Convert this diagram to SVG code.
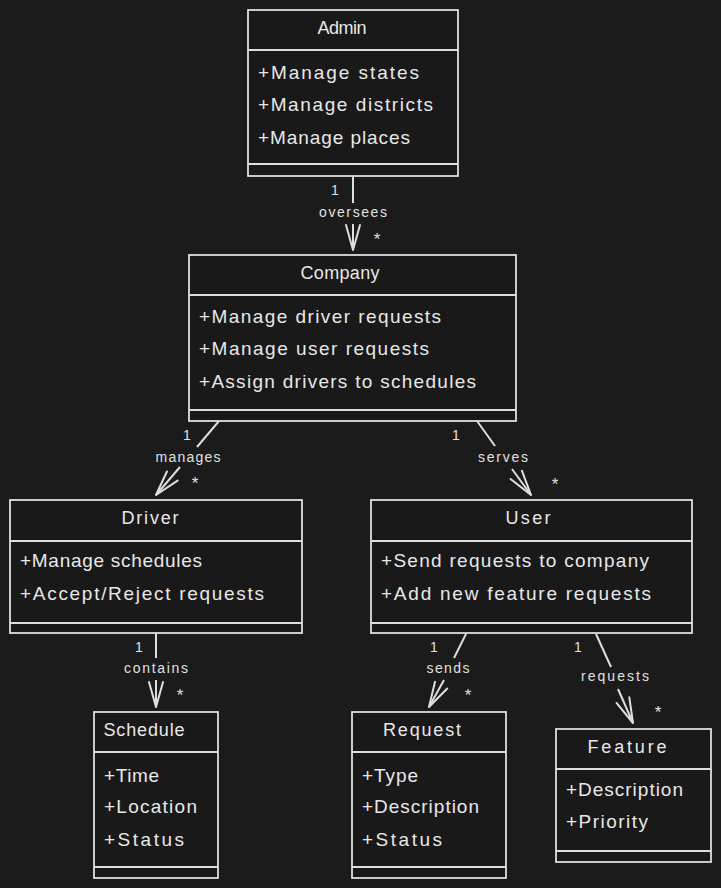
<svg xmlns="http://www.w3.org/2000/svg" width="721" height="888" viewBox="0 0 721 888">
<defs>
<style>
.bg{fill:#1b1b1b}
.box{fill:#191919;stroke:#dedede;stroke-width:1.8}
.div{stroke:#dedede;stroke-width:1.8}
.t{font-family:"Liberation Sans",Arial,sans-serif;fill:#e8e8e8}
.title{font-size:18px;text-anchor:middle}
.mem{font-size:19px}
.lbl{font-family:"Liberation Sans",Arial,sans-serif;fill:#e0e0e0;font-size:14px;text-anchor:middle}
.card{font-family:"Liberation Sans",Arial,sans-serif;fill:#e0e0e0;font-size:14px;text-anchor:middle}
.star{font-family:"Liberation Sans",Arial,sans-serif;fill:#e0e0e0;font-size:17px;text-anchor:middle}
.edge{stroke:#dedede;stroke-width:2;fill:none}
</style>
<marker id="arr" markerUnits="userSpaceOnUse" markerWidth="30" markerHeight="20" viewBox="-27 -10 30 20" refX="0" refY="0" orient="auto">
<path d="M -25 -7 L 0 0 L -25 7" fill="none" stroke="#dedede" stroke-width="2" stroke-linecap="round" stroke-linejoin="round"/>
</marker>
</defs>
<rect class="bg" x="0" y="0" width="721" height="888"/>

<g id="connectors">
<g id="e-admin-company">
<line class="edge" x1="353" y1="176" x2="353" y2="203"/>
<line class="edge" x1="353" y1="224" x2="353" y2="250" marker-end="url(#arr)"/>
<text class="card" x="335" y="195">1</text>
<text class="lbl" x="353" y="217" textLength="68">oversees</text>
<text class="star" x="377" y="245">*</text>
</g>
<g id="e-company-driver">
<line class="edge" x1="219" y1="421" x2="197" y2="447"/>
<line class="edge" x1="180" y1="467" x2="156" y2="495" marker-end="url(#arr)"/>
<text class="card" x="187" y="440">1</text>
<text class="lbl" x="188" y="462" textLength="65">manages</text>
<text class="star" x="195" y="489">*</text>
</g>
<g id="e-company-user">
<line class="edge" x1="477" y1="421" x2="495" y2="446"/>
<line class="edge" x1="512" y1="469" x2="531" y2="495" marker-end="url(#arr)"/>
<text class="card" x="456" y="440">1</text>
<text class="lbl" x="503" y="462" textLength="50">serves</text>
<text class="star" x="555" y="490">*</text>
</g>
<g id="e-driver-schedule">
<line class="edge" x1="156" y1="633" x2="156" y2="658"/>
<line class="edge" x1="156" y1="680" x2="156" y2="707" marker-end="url(#arr)"/>
<text class="card" x="139" y="652">1</text>
<text class="lbl" x="156" y="673" textLength="64">contains</text>
<text class="star" x="180" y="701">*</text>
</g>
<g id="e-user-request">
<line class="edge" x1="466" y1="634" x2="454" y2="658"/>
<line class="edge" x1="444" y1="680" x2="429" y2="707" marker-end="url(#arr)"/>
<text class="card" x="434" y="652">1</text>
<text class="lbl" x="448" y="673" textLength="43">sends</text>
<text class="star" x="468" y="701">*</text>
</g>
<g id="e-user-feature">
<line class="edge" x1="596" y1="634" x2="611" y2="667"/>
<line class="edge" x1="618" y1="689" x2="633" y2="723" marker-end="url(#arr)"/>
<text class="card" x="578" y="652">1</text>
<text class="lbl" x="615" y="681" textLength="68">requests</text>
<text class="star" x="658" y="718">*</text>
</g>
</g>

<g id="Admin">
<rect class="box" x="248" y="10" width="210" height="166"/>
<line class="div" x1="248" y1="50" x2="458" y2="50"/>
<line class="div" x1="248" y1="164" x2="458" y2="164"/>
<text class="t title" x="342" y="34" textLength="49">Admin</text>
<text class="t mem" x="258" y="79" textLength="161">+Manage states</text>
<text class="t mem" x="258" y="111" textLength="175">+Manage districts</text>
<text class="t mem" x="258" y="144" textLength="152">+Manage places</text>
</g>

<g id="Company">
<rect class="box" x="189" y="255" width="327" height="166"/>
<line class="div" x1="189" y1="295" x2="516" y2="295"/>
<line class="div" x1="189" y1="410" x2="516" y2="410"/>
<text class="t title" x="340" y="279" textLength="79">Company</text>
<text class="t mem" x="199" y="323" textLength="242">+Manage driver requests</text>
<text class="t mem" x="199" y="355" textLength="230">+Manage user requests</text>
<text class="t mem" x="199" y="388" textLength="277">+Assign drivers to schedules</text>
</g>

<g id="Driver">
<rect class="box" x="10" y="500" width="292" height="133"/>
<line class="div" x1="10" y1="541" x2="302" y2="541"/>
<line class="div" x1="10" y1="623" x2="302" y2="623"/>
<text class="t title" x="150" y="524" textLength="57">Driver</text>
<text class="t mem" x="20" y="567" textLength="182">+Manage schedules</text>
<text class="t mem" x="20" y="600" textLength="244">+Accept/Reject requests</text>
</g>

<g id="User">
<rect class="box" x="371" y="500" width="321" height="133"/>
<line class="div" x1="371" y1="541" x2="692" y2="541"/>
<line class="div" x1="371" y1="623" x2="692" y2="623"/>
<text class="t title" x="528" y="524" textLength="45">User</text>
<text class="t mem" x="381" y="567" textLength="268">+Send requests to company</text>
<text class="t mem" x="381" y="600" textLength="270">+Add new feature requests</text>
</g>

<g id="Schedule">
<rect class="box" x="94" y="712" width="124" height="166"/>
<line class="div" x1="94" y1="752" x2="218" y2="752"/>
<line class="div" x1="94" y1="867" x2="218" y2="867"/>
<text class="t title" x="144" y="736" textLength="81">Schedule</text>
<text class="t mem" x="104" y="782" textLength="55">+Time</text>
<text class="t mem" x="104" y="813" textLength="93">+Location</text>
<text class="t mem" x="104" y="846" textLength="80">+Status</text>
</g>

<g id="Request">
<rect class="box" x="352" y="712" width="154" height="166"/>
<line class="div" x1="352" y1="752" x2="506" y2="752"/>
<line class="div" x1="352" y1="867" x2="506" y2="867"/>
<text class="t title" x="422" y="736" textLength="78">Request</text>
<text class="t mem" x="362" y="782" textLength="56">+Type</text>
<text class="t mem" x="362" y="813" textLength="117">+Description</text>
<text class="t mem" x="362" y="846" textLength="80">+Status</text>
</g>

<g id="Feature">
<rect class="box" x="556" y="729" width="155" height="133"/>
<line class="div" x1="556" y1="769" x2="711" y2="769"/>
<line class="div" x1="556" y1="851" x2="711" y2="851"/>
<text class="t title" x="627" y="753" textLength="79">Feature</text>
<text class="t mem" x="566" y="796" textLength="117">+Description</text>
<text class="t mem" x="566" y="828" textLength="82">+Priority</text>
</g>
</svg>
